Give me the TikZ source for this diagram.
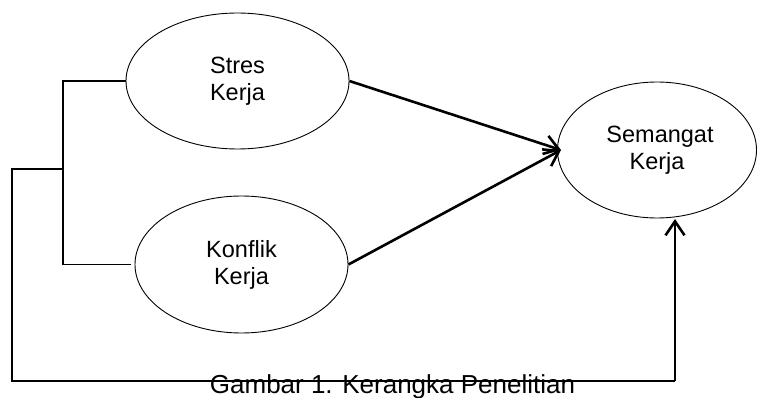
\documentclass[tikz,border=0pt]{standalone}
\usepackage{fontspec}
\setmainfont{Liberation Sans}
\usetikzlibrary{arrows.meta,shapes.geometric}
\begin{document}
\begin{tikzpicture}[x=1pt,y=-1pt,
  oval/.style={draw,ellipse,line width=0.9pt,inner sep=0pt,align=center,
    font=\fontsize{23.5}{27}\selectfont},
  thinline/.style={line width=1.2pt},
  arr/.style={line width=2.6pt,-{Straight Barb[length=14pt,width=19pt,line width=2.6pt]}}]
\useasboundingbox (0,0) rectangle (757,398);
\node[oval,minimum width=223pt,minimum height=136pt] (stres) at (237.5,81) {Stres\\Kerja};
\node[oval,minimum width=213pt,minimum height=137pt] (konf) at (241.5,264.5) {Konflik\\Kerja};
\node[oval,minimum width=199pt,minimum height=136pt] (sem) at (657,150) {\hspace*{6pt}Semangat\\Kerja};
\coordinate (bx) at (63,169);
\coordinate (lx) at (12,169);
\coordinate (lb) at (12,381);
\coordinate (bt) at (675,381);
\coordinate (semb) at (675,219);
\coordinate (tip) at (561,150);
\draw[thinline] (stres.west) -| (bx) |- ([xshift=-4pt]konf.west);
\draw[thinline] (bx) -- (lx) -- (lb) -- (bt);
\draw[arr] (bt) -- (semb);
\draw[arr] (stres.east) -- (tip);
\draw[arr] (konf.east) -- (tip);
\node[font=\fontsize{26}{30}\selectfont,anchor=base] (cap) at (392.5,393) {Gambar 1. Kerangka Penelitian};
\end{tikzpicture}
\end{document}
